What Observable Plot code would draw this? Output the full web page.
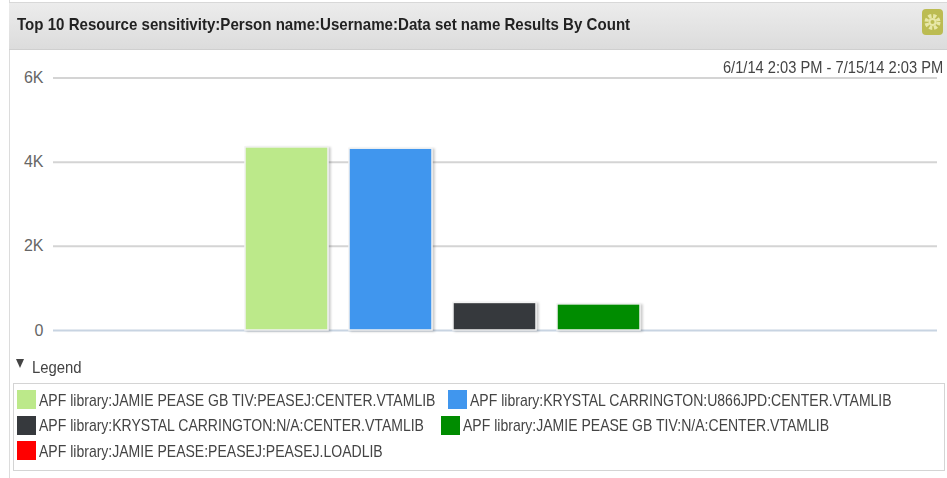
<!DOCTYPE html>
<html><head><meta charset="utf-8">
<script src="https://cdn.jsdelivr.net/npm/d3@7"></script>
<script src="https://cdn.jsdelivr.net/npm/@observablehq/plot@0.6"></script>
<style>
html,body{margin:0;padding:0;background:#fff;width:947px;height:478px;overflow:hidden;font-family:"Liberation Sans",Arial,sans-serif}
#panel{position:absolute;left:9px;top:0;width:938px;height:478px;border-left:1px solid #dcdcdc;box-sizing:border-box}
#head{position:absolute;left:9px;top:2px;width:938px;height:48px;box-sizing:border-box;background:linear-gradient(#ececec,#dcdcdc);border-bottom:1px solid #cfcfcf;border-top:1px solid #d8d8d8}
#title{position:absolute;left:17px;top:15px;font-weight:bold;font-size:17px;color:#222;white-space:nowrap;transform:scaleX(.887);transform-origin:0 0}
#gear{position:absolute;left:922px;top:9px;width:21px;height:26px;border-radius:4px;background:#bcbc52}
#range{position:absolute;right:4px;top:58px;font-size:17px;color:#444;white-space:nowrap;transform:scaleX(.863);transform-origin:100% 0}
#chart{position:absolute;left:0;top:50px}
#legTitle{position:absolute;left:32px;top:358px;font-size:17px;color:#444;transform:scaleX(.875);transform-origin:0 0}
#tri{position:absolute;left:16px;top:359px;width:0;height:0;border-left:4px solid transparent;border-right:4px solid transparent;border-top:9px solid #444}
#legend{position:absolute;left:13px;top:383px;width:932px;height:88px;box-sizing:border-box;border:1px solid #d4d4d4}
.sw{position:absolute;width:19px;height:19px}
.lbl{position:absolute;font-size:17px;color:#444;white-space:nowrap;line-height:20px;transform:scaleX(.825);transform-origin:0 0}
svg [aria-label="bar"] rect{filter:drop-shadow(2px 1px 1px rgba(0,0,0,.2))}
</style></head>
<body>
<div id="panel"></div>
<div id="head"></div>
<div id="title"></div>
<div id="gear"><svg width="21" height="26"><circle cx="10.5" cy="13" r="6" fill="none" stroke="#e8e8a8" stroke-width="4" stroke-dasharray="3 1.7"/><circle cx="10.5" cy="13" r="4" fill="#e8e8a8"/><circle cx="10.5" cy="13" r="2" fill="#bcbc52"/></svg></div>
<div id="chart"></div>
<div id="range"></div>
<div id="tri"></div><div id="legTitle">Legend</div>
<div id="legend"></div>
<script>
const titleText = "Top 10 Resource sensitivity:Person name:Username:Data set name Results By Count";
const rangeText = "6/1/14 2:03 PM - 7/15/14 2:03 PM";
const seriesNames = [
  "APF library:JAMIE PEASE GB TIV:PEASEJ:CENTER.VTAMLIB",
  "APF library:KRYSTAL CARRINGTON:U866JPD:CENTER.VTAMLIB",
  "APF library:KRYSTAL CARRINGTON:N/A:CENTER.VTAMLIB",
  "APF library:JAMIE PEASE GB TIV:N/A:CENTER.VTAMLIB",
  "APF library:JAMIE PEASE:PEASEJ:PEASEJ.LOADLIB"
];
const seriesValues = [4350, 4320, 655, 620, 0];
const seriesColors = ["#bce98a", "#4096ee", "#36393d", "#008c00", "#ff0000"];
const yTicks = [0, 2000, 4000, 6000];
const yTickLabels = ["0", "2K", "4K", "6K"];
const legendX = [17, 448, 17, 441, 17];
const legendRow = [0, 0, 1, 1, 2];

document.getElementById("title").textContent = titleText;
document.getElementById("range").textContent = rangeText;

const rows = seriesNames.map((name, i) => ({name, value: seriesValues[i]}));
const plot = Plot.plot({
  width: 947, height: 300,
  marginLeft: 53, marginRight: 10, marginTop: 27.5, marginBottom: 20,
  style: {background: "transparent", fontFamily: "inherit"},
  x: {domain: seriesNames, range: [235, 755], paddingInner: 0.2, paddingOuter: 0.1, axis: null},
  y: {domain: [0, 6000], ticks: yTicks, grid: false, label: null},
  color: {domain: seriesNames, range: seriesColors},
  marks: [
    Plot.gridY(yTicks.slice(1), {stroke: "#d4d4d4", strokeOpacity: 1, strokeWidth: 2}),
    Plot.ruleY([0], {stroke: "#c8d4e2", strokeWidth: 2}),
    Plot.axisY(yTicks, {tickSize: 0, tickPadding: 10, fontSize: 16, fill: "#666",
      tickFormat: d => yTickLabels[yTicks.indexOf(d)], label: null}),
    Plot.barY(rows.filter(d => d.value > 0), {x: "name", y: "value", fill: "name", stroke: "#f2f2f2", strokeWidth: 1.5})
  ]
});
document.getElementById("chart").append(plot);

const leg = document.getElementById("legend");
seriesNames.forEach((name, i) => {
  const top = 6 + legendRow[i] * 25.5;
  const left = legendX[i] - 14;
  const sw = document.createElement("span");
  sw.className = "sw"; sw.style.background = seriesColors[i];
  sw.style.left = left + "px"; sw.style.top = top + "px";
  const t = document.createElement("span");
  t.className = "lbl"; t.textContent = name;
  t.style.left = (left + 22) + "px"; t.style.top = (top + 0.5) + "px";
  leg.append(sw, t);
});
</script>
</body></html>
